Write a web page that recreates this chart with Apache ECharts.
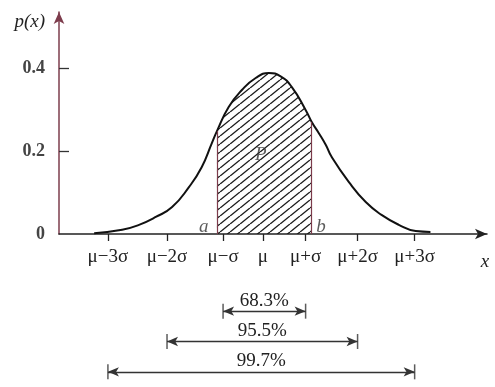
<!DOCTYPE html>
<html>
<head>
<meta charset="utf-8">
<script src="https://cdn.jsdelivr.net/npm/echarts@6/dist/echarts.min.js"></script>
<style>html,body{margin:0;padding:0;background:#fff}#c{width:495px;height:387px}</style>
</head>
<body>
<div id="c"></div>
<script>
// ---- data ----
const TICK_POS = [-3.04, -1.88, -0.78, 0, 0.84, 1.86, 2.98];
const TICK_LABELS = ['μ−3σ', 'μ−2σ', 'μ−σ', 'μ', 'μ+σ', 'μ+2σ', 'μ+3σ'];
const Y_TICKS = [0, 0.2, 0.4];
const CURVE_X = [-3.31, -2.76, -2.43, -2.10, -1.78, -1.45, -1.20, -1.00, -0.90, -0.67, -0.41, -0.14, 0.12, 0.35, 0.57, 0.84, 0.96, 1.10, 1.24, 1.35, 1.69, 2.02, 2.33, 2.67, 3.00, 3.29];
const CURVE_Y = [0.002, 0.010, 0.022, 0.041, 0.065, 0.113, 0.161, 0.219, 0.248, 0.306, 0.347, 0.376, 0.388, 0.380, 0.354, 0.299, 0.270, 0.243, 0.214, 0.186, 0.125, 0.077, 0.046, 0.022, 0.007, 0.005];
const A_X = -0.90, B_X = 0.96;
const RANGE_NAMES = ['68.3%', '95.5%', '99.7%'];
const RANGE_K = [1, 2, 3];           // ±kσ
const RANGE_ROW = [2.5, 1.5, 0.5];   // row in the lower panel
const P_LABEL = {name: 'P', x: -0.04, y: 0.19};
const AB_LABELS = [{name: 'a', x: -1.16, y: 0.016}, {name: 'b', x: 1.14, y: 0.016}];

// ---- build ----
const curve = CURVE_X.map((x, i) => [x, CURVE_Y[i]]);
const shaded = curve.filter(p => p[0] >= A_X - 1e-9 && p[0] <= B_X + 1e-9);
const yA = CURVE_Y[CURVE_X.indexOf(A_X)], yB = CURVE_Y[CURVE_X.indexOf(B_X)];
const mid = TICK_POS.indexOf(0);

function hatch() {
  const c = document.createElement('canvas');
  const w = 10, h = 8;
  c.width = w; c.height = h;
  const g = c.getContext('2d');
  g.strokeStyle = '#1a1a1a'; g.lineWidth = 1.35;
  for (let i = -1; i <= 1; i++) {
    g.beginPath(); g.moveTo(i * w, h); g.lineTo((i + 1) * w, 0); g.stroke();
  }
  return c;
}

const serif = 'Liberation Serif';
const MAROON = '#7d3c4c';
const chart = echarts.init(document.getElementById('c'), null, {renderer: 'canvas'});

const rangeBars = [], rangeLines = [];
RANGE_NAMES.forEach((n, i) => {
  const lo = TICK_POS[mid - RANGE_K[i]], hi = TICK_POS[mid + RANGE_K[i]];
  rangeBars.push([lo, RANGE_ROW[i]], [hi, RANGE_ROW[i]]);
  rangeLines.push([{name: n, coord: [lo, RANGE_ROW[i]]}, {coord: [hi, RANGE_ROW[i]]}]);
});

chart.setOption({
  animation: false,
  backgroundColor: '#fff',
  grid: [
    {left: 59, right: 8, top: 12, height: 222},
    {left: 59, right: 8, top: 296, height: 98}
  ],
  xAxis: [{
    type: 'value', gridIndex: 0, min: -4, max: 4.4,
    name: 'x', nameLocation: 'end', nameGap: -2,
    nameTextStyle: {fontFamily: serif, fontStyle: 'italic', fontSize: 19, color: '#222', align: 'center', verticalAlign: 'top', padding: [18, 0, 0, 0]},
    axisLine: {show: true, onZero: false, lineStyle: {color: '#222', width: 1.5}, symbol: ['none', 'arrow'], symbolSize: [8, 12]},
    axisTick: {show: true, customValues: TICK_POS, length: 7, lineStyle: {color: '#222', width: 1.3}},
    axisLabel: {show: true, customValues: TICK_POS, margin: 14, fontFamily: serif, fontSize: 19, color: '#222',
      formatter: v => TICK_LABELS[TICK_POS.indexOf(v)] || ''},
    splitLine: {show: false}
  }, {
    type: 'value', gridIndex: 1, min: -4, max: 4.4, show: false
  }],
  yAxis: [{
    type: 'value', gridIndex: 0, min: 0, max: 0.535,
    name: 'p(x)', nameLocation: 'end', nameGap: -10,
    nameTextStyle: {fontFamily: serif, fontStyle: 'italic', fontSize: 19, color: '#222', align: 'right', verticalAlign: 'middle', padding: [0, 14, 0, 0]},
    axisLine: {show: true, onZero: false, lineStyle: {color: MAROON, width: 1.5}, symbol: ['none', 'arrow'], symbolSize: [8, 12]},
    axisTick: {show: true, inside: true, customValues: [0.2, 0.4], length: 10, lineStyle: {color: '#333', width: 1.3}},
    axisLabel: {show: true, customValues: Y_TICKS, margin: 14, fontFamily: serif, fontSize: 18, color: '#444', fontWeight: 'bold'},
    splitLine: {show: false}
  }, {
    type: 'value', gridIndex: 1, min: 0, max: 3, show: false
  }],
  series: [{
    type: 'line', data: shaded, smooth: true, symbol: 'none', z: 2,
    lineStyle: {width: 0},
    areaStyle: {color: {image: hatch(), repeat: 'repeat'}, opacity: 1},
    markLine: {
      silent: true, symbol: 'none', label: {show: false},
      lineStyle: {color: MAROON, width: 1.2, type: 'solid'},
      data: [[{coord: [A_X, 0]}, {coord: [A_X, yA]}], [{coord: [B_X, 0]}, {coord: [B_X, yB]}]]
    }
  }, {
    type: 'line', data: curve, smooth: true, symbol: 'none', z: 3,
    lineStyle: {color: '#111', width: 2}
  }, {
    type: 'scatter', symbolSize: 0, z: 4,
    data: [P_LABEL].concat(AB_LABELS).map(d => ({name: d.name, value: [d.x, d.y]})),
    label: {show: true, position: 'inside', formatter: p => p.name, fontFamily: serif, fontStyle: 'italic', fontSize: 19, color: '#333'}
  }, {
    type: 'scatter', xAxisIndex: 1, yAxisIndex: 1, data: rangeBars,
    symbol: 'rect', symbolSize: [1.5, 15], itemStyle: {color: '#333'},
    markLine: {
      silent: true, symbol: ['arrow', 'arrow'], symbolSize: [7, 11],
      lineStyle: {color: '#333', width: 1.3, type: 'solid'},
      label: {show: true, position: 'insideMiddleTop', distance: 1, formatter: p => p.name, fontFamily: serif, fontSize: 19, color: '#222'},
      data: rangeLines
    }
  }]
});
</script>
</body>
</html>
